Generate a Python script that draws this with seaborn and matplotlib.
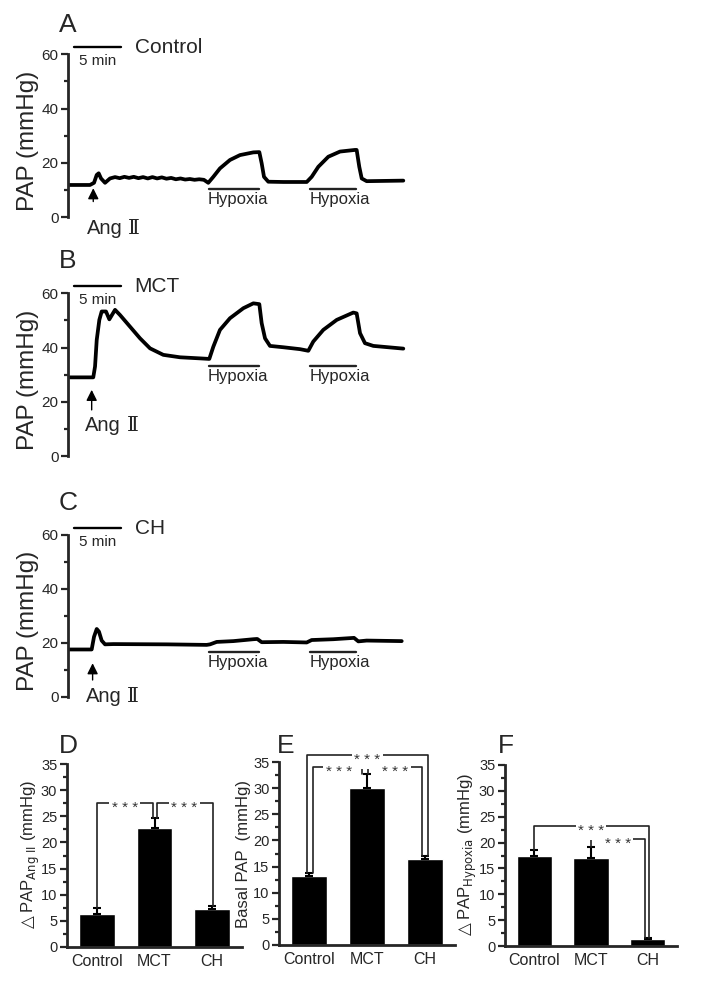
import numpy as np
import matplotlib
matplotlib.use("Agg")
import matplotlib.pyplot as plt
import seaborn as sns

# ---- pressure traces (time in min, PAP in mmHg) ----
ctrl_t = [0.0, 2.32, 2.75, 3.04, 3.25, 3.50, 3.93, 4.46, 5.0, 5.5, 6.0, 6.5, 7.0, 7.5, 8.0, 8.5,
          9.0, 9.5, 10.0, 10.5, 11.0, 11.5, 12.0, 12.5, 13.0, 13.5, 14.0, 14.5, 14.97, 15.51,
          16.22, 17.29, 18.36, 19.79, 20.43, 20.68, 20.93, 21.39, 23.0, 25.5, 26.03, 26.74,
          27.81, 29.06, 30.66, 30.84, 31.12, 31.38, 31.91, 35.83]
ctrl_p = [11.9, 11.9, 12.7, 15.6, 16.2, 14.3, 12.7, 14.3, 14.8, 14.4, 14.9, 14.5, 14.9, 14.4,
          14.8, 14.3, 14.8, 14.3, 14.7, 14.2, 14.5, 14.0, 14.3, 13.9, 14.1, 13.8, 14.0, 13.8,
          12.7, 14.9, 18.0, 21.1, 22.9, 23.9, 24.0, 19.9, 14.9, 13.1, 13.0, 13.0, 14.9, 18.6,
          22.3, 24.2, 24.8, 24.8, 18.6, 14.3, 13.3, 13.5]

mct_t = [0.0, 2.67, 2.86, 3.04, 3.32, 3.57, 4.03, 4.39, 5.0, 5.53, 6.6, 7.67, 8.74, 10.16,
         11.95, 14.09, 15.08, 15.51, 16.22, 17.29, 18.72, 19.79, 20.43, 20.68, 21.04, 21.57,
         23.0, 24.78, 25.67, 26.2, 27.27, 28.71, 30.48, 30.84, 31.2, 31.73, 32.62, 35.83]
mct_p = [29.0, 29.0, 33.0, 42.8, 50.2, 53.3, 53.3, 50.4, 53.9, 52.0, 47.7, 43.4, 39.7, 37.3,
         36.4, 36.0, 35.8, 40.3, 46.5, 50.8, 54.5, 56.3, 56.0, 49.0, 43.4, 40.6, 40.1, 39.4,
         38.8, 42.2, 46.5, 50.2, 52.9, 52.6, 45.3, 41.6, 40.6, 39.6]

ch_t = [0.0, 2.5, 2.75, 3.04, 3.28, 3.57, 3.93, 4.81, 10.52, 14.8, 15.16, 15.87, 17.65, 19.79,
        20.21, 20.68, 23.0, 25.5, 26.03, 28.34, 30.56, 31.02, 31.91, 35.66]
ch_p = [17.6, 17.6, 22.3, 25.2, 24.2, 20.9, 19.5, 19.6, 19.5, 19.3, 19.5, 20.4, 20.7, 21.4,
        21.5, 20.3, 20.4, 20.2, 21.1, 21.4, 21.9, 20.6, 20.9, 20.7]

groups = ['Control', 'MCT', 'CH']
trace_letters = ['A', 'B', 'C']
hyp_start = [15.0, 25.9]
hyp_end = [20.4, 30.8]
hyp_level = [10.4, 33.2, 16.8]
ang_time = [2.67, 2.5, 2.6]
ang_top = [10.7, 24.4, 12.5]
ang_bottom = [5.8, 17.0, 6.3]
ang_label_y = [-4.3, 11.4, 0.1]

# ---- summary bars (mean, SEM) ----
d_mean = [6.4, 22.8, 7.3]
d_sem = [1.0, 1.8, 0.6]
e_mean = [13.2, 30.1, 16.5]
e_sem = [0.6, 2.6, 0.6]
f_mean = [17.5, 17.0, 1.35]
f_sem = [1.0, 2.1, 0.25]

sns.set_style('ticks')
plt.rcParams['font.family'] = ['Liberation Sans', 'DejaVu Sans']
plt.rcParams['mathtext.fontset'] = 'dejavusans'

W, H = 718, 981
fig = plt.figure(figsize=(W / 100, H / 100), dpi=100)


def rect(left, bottom, right, top):
    return [left / W, 1 - bottom / H, (right - left) / W, (bottom - top) / H]


trace_rects = [rect(68.3, 217.3, 408.3, 54.3), rect(68.3, 456, 408.3, 293.3),
               rect(68.3, 697, 408.3, 535)]
traces = [(ctrl_t, ctrl_p), (mct_t, mct_p), (ch_t, ch_p)]
letter_y = [32, 268.3, 510]

for k in range(3):
    ax = fig.add_axes(trace_rects[k])
    t, p = traces[k]
    sns.lineplot(x=t, y=p, ax=ax, color='k', lw=2.7, estimator=None)
    ax.set_xlim(0, 340 / 9.35)
    ax.set_ylim(0, 60)
    ax.set_xticks([])
    ax.set_yticks([0, 20, 40, 60])
    ax.set_yticks([10, 30, 50], minor=True)
    ax.tick_params(axis='y', which='major', length=5, width=1.6, labelsize=11, pad=2)
    ax.tick_params(axis='y', which='minor', length=3, width=1.6)
    sns.despine(ax=ax, bottom=True)
    ax.spines['left'].set_linewidth(2)
    ax.set_ylabel('PAP (mmHg)', fontsize=17.5, va='center')
    ax.yaxis.set_label_coords(-0.1185, 0.47)

    # 5 min scale bar and group name
    ax.plot([0.6, 5.6], [62.6, 62.6], color='k', lw=1.7, clip_on=False)
    ax.text(3.1, 57.4, '5 min', ha='center', va='center', fontsize=11)
    ax.text(7.1, 62.4, groups[k], ha='left', va='center', fontsize=15)

    # hypoxia periods
    for s, e in zip(hyp_start, hyp_end):
        ax.plot([s, e], [hyp_level[k]] * 2, color='#222222', lw=1.7, clip_on=False)
        ax.text(s - 0.1, hyp_level[k] - 4.0, 'Hypoxia', ha='left', va='center', fontsize=12)

    # Ang II arrow
    ax.annotate('', xy=(ang_time[k], ang_top[k]), xytext=(ang_time[k], ang_bottom[k]),
                arrowprops=dict(arrowstyle='-|>', color='k', lw=1.0, mutation_scale=16,
                                shrinkA=0, shrinkB=0), annotation_clip=False)
    ang = ax.text(ang_time[k] - 0.7, ang_label_y[k], 'Ang', ha='left', va='center',
                  fontsize=14.5)
    ax.annotate('Ⅱ', xy=(1, 0.5), xycoords=ang, xytext=(4, 0), textcoords='offset points',
                ha='left', va='center', fontsize=14.5,
                family=['DejaVu Serif', 'DejaVu Sans'])

    fig.text(59 / W, 1 - letter_y[k] / H, trace_letters[k], fontsize=19, va='baseline')

# ---- bar panels ----
bar_rects = [rect(67, 947, 242, 764), rect(279.3, 945, 455, 762), rect(505, 946, 677, 765)]
bar_means = [d_mean, e_mean, f_mean]
bar_sems = [d_sem, e_sem, f_sem]
bar_letters = ['D', 'E', 'F']
bar_letter_x = [59, 277, 498]
bar_labels = [r'$\triangle$PAP$_{\mathrm{Ang\ II}}$ (mmHg)',
              'Basal PAP  (mmHg)',
              r'$\triangle$PAP$_{\mathrm{Hypoxia}}$ (mmHg)']
label_x = [-0.205, -0.205, -0.215]
# (left bar, right bar, bracket height, left offset, right offset, stars x)
brackets = [
    [(0, 1, 27.5, 0.0, -0.03, 0.48), (1, 2, 27.5, 0.05, 0.01, 1.52)],
    [(0, 2, 36.3, -0.04, 0.05, 1.0), (0, 1, 34.0, 0.06, -0.09, 0.51),
     (1, 2, 34.0, 0.02, -0.05, 1.49)],
    [(0, 2, 23.2, 0.0, 0.03, 1.0), (1, 2, 20.6, 0.0, -0.04, 1.47)],
]

for k in range(3):
    ax = fig.add_axes(bar_rects[k])
    means = bar_means[k]
    sems = bar_sems[k]
    sns.barplot(x=groups, y=means, ax=ax, color='black', saturation=1, width=0.62,
                errorbar=None)
    ax.errorbar(range(3), means, yerr=[np.zeros(3), sems], fmt='none', ecolor='k',
                elinewidth=1.5, capsize=2.8, capthick=1.5)
    ax.set_xlim(-0.52, 2.52)
    ax.set_ylim(0, 35)
    ax.set_yticks(np.arange(0, 36, 5))
    ax.set_yticks(np.arange(2.5, 35, 5), minor=True)
    ax.tick_params(axis='y', which='major', length=5, width=1.6, labelsize=10.5, pad=2)
    ax.tick_params(axis='y', which='minor', length=3, width=1.6)
    ax.tick_params(axis='x', length=0, labelsize=11.5, pad=5)
    sns.despine(ax=ax)
    ax.spines['left'].set_linewidth(2)
    ax.spines['bottom'].set_linewidth(2)
    ax.set_ylabel(bar_labels[k], fontsize=12, va='center')
    ax.yaxis.set_label_coords(label_x[k], 0.5)

    for i, j, h, di, dj, sx in brackets[k]:
        xs = [i + di, i + di, j + dj, j + dj]
        ys = [means[i] + sems[i], h, h, means[j] + sems[j]]
        ax.plot(xs, ys, color='#222222', lw=1.2, clip_on=False, zorder=4)
        ax.annotate('* * *', xy=(sx, h), xytext=(0, -3.5), textcoords='offset points',
                    ha='center', va='center', fontsize=11, color='#333333', zorder=5,
                    bbox=dict(boxstyle='square,pad=0.15', fc='white', ec='none'),
                    annotation_clip=False)

    fig.text(bar_letter_x[k] / W, 1 - 753 / H, bar_letters[k], fontsize=19, va='baseline')

fig.savefig('out.png', dpi=100)
